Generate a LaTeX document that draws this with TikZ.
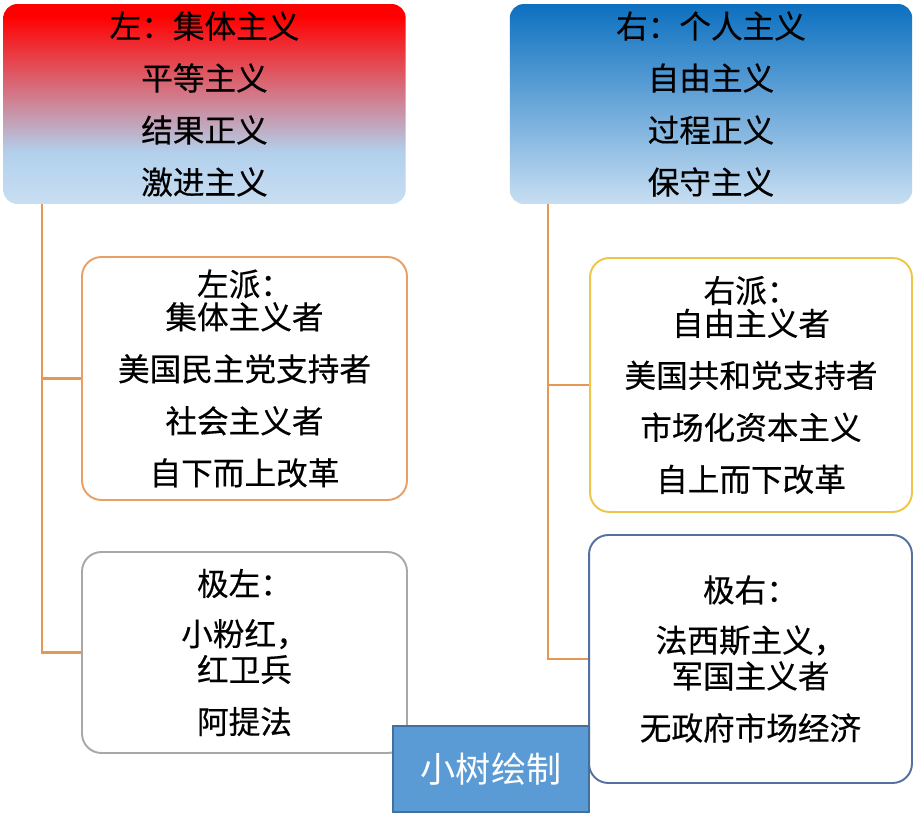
\documentclass[tikz,border=0pt]{standalone}
\usepackage{fontspec}
\setmainfont{Noto Sans CJK SC}
\newfontfamily\heiti[FakeBold=0.4]{Noto Sans CJK SC}
\usepackage{xcolor}
\usepackage{tikz}
\usetikzlibrary{positioning}
\definecolor{treeorange}{RGB}{228, 152, 84}
\definecolor{pairorange}{RGB}{234, 160, 100}
\definecolor{paigold}{RGB}{238, 198, 70}
\definecolor{jigray}{RGB}{168, 168, 168}
\definecolor{jiblue}{RGB}{84, 112, 160}
\definecolor{signfill}{RGB}{91, 155, 213}
\definecolor{signdraw}{RGB}{65, 113, 156}
\definecolor{headtop}{RGB}{12, 112, 192}
\definecolor{headbot}{RGB}{200, 222, 242}
\definecolor{fadelight}{RGB}{178, 208, 236}
\pgfdeclareverticalshading{leftfade}{100bp}{color(0bp)=(headbot); color(25bp)=(headbot); color(38bp)=(fadelight); color(72bp)=(red); color(100bp)=(red)}

\begin{document}
\begin{tikzpicture}[
  x=0.02cm, y=-0.02cm,
  head/.style  = {rectangle, rounded corners=8pt, inner sep=0pt, align=center,
                  minimum width=8.05cm, minimum height=4.0cm,
                  font=\heiti\fontsize{18}{29.6}\selectfont},
  pai/.style   = {rectangle, rounded corners=11pt, draw, fill=white, line width=1.1pt,
                  inner sep=0pt, align=center,
                  font=\heiti\fontsize{18}{29.6}\selectfont},
  tree/.style  = {draw=treeorange, line width=1.2pt},
  sign/.style  = {rectangle, draw=signdraw, fill=signfill, line width=1pt,
                  minimum width=3.92cm, minimum height=1.72cm, text=white,
                  font=\fontsize{20}{24}\selectfont}
]
  \useasboundingbox (0,0) rectangle (920,815);

  % ---- Row 0: headers ----
  \node[head, shade, shading=leftfade] at (204.5, 104) (lhead)
    {左：集体主义\\平等主义\\结果正义\\激进主义};
  \node[head, top color=headtop, bottom color=headbot] at (711, 104) (rhead)
    {右：个人主义\\自由主义\\过程正义\\保守主义};

  % ---- Row 1: 派 ----
  \node[pai, draw=pairorange, minimum width=6.5cm, minimum height=4.86cm]
    at (244.5, 378.5) (lpai)
    {左派：\\[-10.9pt]集体主义者\\美国民主党支持者\\社会主义者\\自下而上改革};
  \node[pai, draw=paigold, minimum width=6.44cm, minimum height=5.08cm]
    at (751, 385) (rpai)
    {右派：\\[-10.9pt]自由主义者\\美国共和党支持者\\市场化资本主义\\自上而下改革};

  % ---- Row 2: 极 ----
  \node[pai, draw=jigray, minimum width=6.5cm, minimum height=4.02cm]
    at (244.5, 652.5) (jizuo)
    {极左：\\[-1pt]小粉红，\\[-9.2pt]红卫兵\\阿提法};
  \node[pai, draw=jiblue, minimum width=6.46cm, minimum height=4.96cm]
    at (750.5, 659) (jiyou)
    {极右：\\[-1pt]法西斯主义，\\[-9.2pt]军国主义者\\无政府市场经济};

  % ---- Tree lines ----
  \coordinate (ltop) at (42, 204);
  \coordinate (rtop) at (548, 204);
  \draw[tree] (ltop) |- (lpai.west);
  \draw[tree] (ltop) |- (jizuo.west);
  \draw[tree] (rtop) |- (rpai.west);
  \draw[tree] (rtop) |- (jiyou.west);

  % ---- Signature ----
  \node[sign] at (491, 769) (sign) {小树绘制};
\end{tikzpicture}
\end{document}
